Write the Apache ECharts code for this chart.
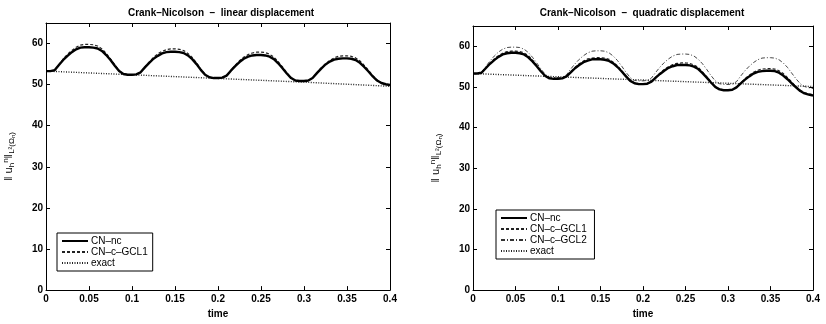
<!DOCTYPE html>
<html>
<head>
<meta charset="utf-8">
<script src="https://cdn.jsdelivr.net/npm/echarts@6/dist/echarts.min.js"></script>
<style>html,body{margin:0;padding:0;background:#fff}#c{width:826px;height:324px}</style>
</head>
<body>
<div id="c"></div>
<script>
const time = [0,0.005,0.01,0.015,0.02,0.025,0.03,0.035,0.04,0.045,0.05,0.055,0.06,0.065,0.07,0.075,0.08,0.085,0.09,0.095,0.1,0.105,0.11,0.115,0.12,0.125,0.13,0.135,0.14,0.145,0.15,0.155,0.16,0.165,0.17,0.175,0.18,0.185,0.19,0.195,0.2,0.205,0.21,0.215,0.22,0.225,0.23,0.235,0.24,0.245,0.25,0.255,0.26,0.265,0.27,0.275,0.28,0.285,0.29,0.295,0.3,0.305,0.31,0.315,0.32,0.325,0.33,0.335,0.34,0.345,0.35,0.355,0.36,0.365,0.37,0.375,0.38,0.385,0.39,0.395,0.4];
const exactTime = [0,0.05,0.1,0.15,0.2,0.25,0.3,0.35,0.4];

const linNc = [53.3,53.3,53.5,54.8,56.0,57.0,57.9,58.6,59.0,59.1,59.1,59.0,58.8,58.2,57.2,56.0,54.6,53.3,52.6,52.4,52.4,52.5,
53.0,54.2,55.3,56.3,57.0,57.6,57.9,58.0,58.0,57.9,57.7,57.1,56.2,55.0,53.6,52.4,51.8,51.6,51.6,51.7,
52.2,53.4,54.5,55.5,56.3,56.8,57.1,57.2,57.2,57.1,56.8,56.2,55.2,54.0,52.7,51.6,51.0,50.9,50.9,51.0,
51.6,52.8,53.9,54.9,55.6,56.1,56.3,56.4,56.4,56.3,56.0,55.3,54.3,53.2,52.0,51.0,50.4,50.1,49.9];
const linGcl1 = [53.3,53.3,53.5,54.9,56.2,57.4,58.3,59.1,59.6,59.8,59.8,59.7,59.4,58.7,57.6,56.3,54.8,53.4,52.6,52.4,52.4,52.5,
53.0,54.3,55.5,56.6,57.5,58.1,58.5,58.7,58.7,58.6,58.3,57.6,56.6,55.3,53.8,52.5,51.8,51.6,51.6,51.7,
52.2,53.5,54.7,55.8,56.7,57.3,57.7,57.9,57.9,57.8,57.4,56.7,55.6,54.3,52.9,51.7,51.0,50.9,50.9,51.0,
51.6,52.9,54.1,55.1,55.9,56.5,56.9,57.0,57.0,56.9,56.5,55.8,54.7,53.5,52.2,51.1,50.4,50.1,49.9];
const linExact = [53.3,52.85,52.4,51.95,51.5,51.05,50.6,50.1,49.6];

const quadNc = [53.3,53.3,53.5,54.6,55.7,56.6,57.4,58.0,58.3,58.4,58.4,58.3,58.0,57.3,56.3,55.1,53.8,52.7,52.1,52.0,52.0,52.1,
52.6,53.6,54.6,55.4,56.1,56.5,56.8,56.8,56.8,56.7,56.4,55.8,54.9,53.8,52.6,51.5,50.9,50.7,50.7,50.8,
51.3,52.3,53.2,54.0,54.7,55.1,55.4,55.4,55.4,55.3,55.0,54.4,53.4,52.3,51.1,50.0,49.4,49.2,49.2,49.3,
49.9,50.9,51.8,52.6,53.3,53.7,53.9,54.0,54.0,53.9,53.5,52.8,51.9,50.9,49.9,49.0,48.4,48.1,47.9];
const quadGcl1 = [53.3,53.3,53.5,54.7,55.9,56.9,57.7,58.3,58.7,58.8,58.8,58.7,58.4,57.7,56.6,55.3,53.9,52.8,52.2,52.0,52.0,52.1,
52.6,53.7,54.8,55.7,56.4,56.9,57.1,57.2,57.2,57.1,56.8,56.1,55.2,54.0,52.7,51.6,51.0,50.8,50.7,50.8,
51.3,52.4,53.4,54.3,55.0,55.5,55.8,55.9,55.9,55.8,55.4,54.8,53.7,52.5,51.2,50.1,49.5,49.3,49.2,49.3,
49.9,51.0,52.0,52.9,53.6,54.1,54.4,54.5,54.5,54.4,54.0,53.3,52.3,51.2,50.1,49.2,48.6,48.3,48.1];
const quadGcl2 = [53.3,53.3,53.6,55.0,56.4,57.6,58.6,59.3,59.7,59.8,59.8,59.7,59.3,58.5,57.3,55.9,54.4,53.1,52.4,52.3,52.3,52.4,
53.0,54.4,55.7,56.8,57.7,58.4,58.8,58.9,58.9,58.8,58.4,57.6,56.5,55.1,53.6,52.3,51.6,51.5,51.5,51.6,
52.2,53.6,54.9,56.0,56.9,57.6,58.0,58.1,58.1,58.0,57.6,56.8,55.7,54.3,52.8,51.5,50.8,50.6,50.6,50.7,
51.3,52.7,54.0,55.1,56.0,56.7,57.1,57.2,57.2,57.1,56.7,55.9,54.8,53.4,52.0,50.8,50.1,49.8,49.6];
const quadExact = [53.3,52.9,52.5,52.1,51.7,51.3,50.9,50.5,50.1];

const xTicks = [0,0.05,0.1,0.15,0.2,0.25,0.3,0.35,0.4];
const yTicks = [0,10,20,30,40,50,60];

const titles = ['Crank\u2013Nicolson  \u2013  linear displacement', 'Crank\u2013Nicolson  \u2013  quadratic displacement'];

const pair = (xs, ys) => xs.map((x, i) => [x, ys[i]]);
const FONT = 'Liberation Sans, Arial, sans-serif';

function xAxes(gi) {
  const base = {
    type: 'value', gridIndex: gi, min: 0, max: 0.4, interval: 0.05,
    splitLine: {show: false},
    axisLine: {show: true, onZero: false, lineStyle: {color: '#000', width: 1}},
    axisTick: {show: true, inside: true, length: 4, lineStyle: {color: '#000'}}
  };
  return [
    Object.assign({}, base, {position: 'bottom', name: 'time', nameLocation: 'middle', nameGap: 17,
      nameTextStyle: {color: '#000', fontSize: 10, fontFamily: FONT, fontWeight: 'bold'},
      axisLabel: {color: '#000', fontSize: 10, fontFamily: FONT, fontWeight: 'bold', margin: 4,
        formatter: v => xTicks.includes(+v.toFixed(3)) ? String(+v.toFixed(3)) : ''}}),
    Object.assign({}, base, {position: 'top', axisLabel: {show: false}})
  ];
}
function yAxes(gi) {
  const base = {
    type: 'value', gridIndex: gi, min: 0, max: 65, interval: 10,
    splitLine: {show: false},
    axisLine: {show: true, onZero: false, lineStyle: {color: '#000', width: 1}},
    axisTick: {show: true, inside: true, length: 4, lineStyle: {color: '#000'}}
  };
  return [
    Object.assign({}, base, {position: 'left',
      name: '{a|\u2016 u}{s|h}{p|n}{a|\u2016}{s|L\u00b2(\u03a9}{t|n}{s|)}',
      nameLocation: 'middle', nameGap: 30, nameRotate: 90,
      nameTextStyle: {color: '#000', fontFamily: FONT, rich: {
        a: {fontSize: 11, fontFamily: FONT, color: '#000'},
        s: {fontSize: 8, fontFamily: FONT, color: '#000', padding: [6, 0, 0, 0]},
        p: {fontSize: 8, fontFamily: FONT, color: '#000', padding: [0, 0, 6, 0]},
        t: {fontSize: 6, fontFamily: FONT, color: '#000', padding: [9, 0, 0, 0]}
      }},
      axisLabel: {color: '#000', fontSize: 10, fontFamily: FONT, fontWeight: 'bold', margin: 3,
        formatter: v => yTicks.includes(v) ? String(v) : ''}}),
    Object.assign({}, base, {position: 'right', axisLabel: {show: false}})
  ];
}

function ser(name, xs, ys, xi, yi, style) {
  return {name, type: 'line', xAxisIndex: xi, yAxisIndex: yi, data: pair(xs, ys),
    showSymbol: false, symbol: 'none', smooth: false, animation: false,
    lineStyle: style, itemStyle: {color: style.color}, z: style.z || 2};
}
const sNc = {color: '#000', width: 2.4, type: 'solid', z: 4};
const sG1 = {color: '#222', width: 1.2, type: [3, 2], z: 3};
const sG2 = {color: '#333', width: 0.9, type: [4, 2, 1, 2], z: 3};
const sEx = {color: '#222', width: 1.4, type: [1, 1.5], z: 2};

const legendBase = {orient: 'vertical', backgroundColor: '#fff', borderColor: '#000', borderWidth: 1,
  padding: [3, 5, 3, 4], itemGap: 1, itemWidth: 26, itemHeight: 10,
  itemStyle: {opacity: 0, borderWidth: 0},
  textStyle: {color: '#000', fontSize: 10, fontFamily: FONT, padding: [0, 0, 0, -2]}};

const chart = echarts.init(document.getElementById('c'), null, {renderer: 'canvas'});
chart.setOption({
  backgroundColor: '#fff',
  animation: false,
  title: [
    {text: titles[0], left: 216, top: 3, textAlign: 'center', textStyle: {fontSize: 10, fontWeight: 'bold', fontFamily: FONT, color: '#000'}},
    {text: titles[1], left: 637, top: 3, textAlign: 'center', textStyle: {fontSize: 10, fontWeight: 'bold', fontFamily: FONT, color: '#000'}}
  ],
  grid: [
    {left: 46, right: 436, top: 23, bottom: 27},
    {left: 473, right: 13, top: 26, bottom: 27}
  ],
  xAxis: xAxes(0).concat(xAxes(1)),
  yAxis: yAxes(0).concat(yAxes(1)),
  legend: [
    Object.assign({}, legendBase, {left: 57, top: 233, data: ['CN\u2013nc', 'CN\u2013c\u2013GCL1', 'exact']}),
    Object.assign({}, legendBase, {left: 496, top: 210, data: ['CN\u2013nc ', 'CN\u2013c\u2013GCL1 ', 'CN\u2013c\u2013GCL2', 'exact ']})
  ],
  series: [
    ser('exact', exactTime, linExact, 0, 0, sEx),
    ser('CN\u2013c\u2013GCL1', time, linGcl1, 0, 0, sG1),
    ser('CN\u2013nc', time, linNc, 0, 0, sNc),
    ser('exact ', exactTime, quadExact, 2, 2, sEx),
    ser('CN\u2013c\u2013GCL2', time, quadGcl2, 2, 2, sG2),
    ser('CN\u2013c\u2013GCL1 ', time, quadGcl1, 2, 2, sG1),
    ser('CN\u2013nc ', time, quadNc, 2, 2, sNc)
  ]
});
</script>
</body>
</html>
